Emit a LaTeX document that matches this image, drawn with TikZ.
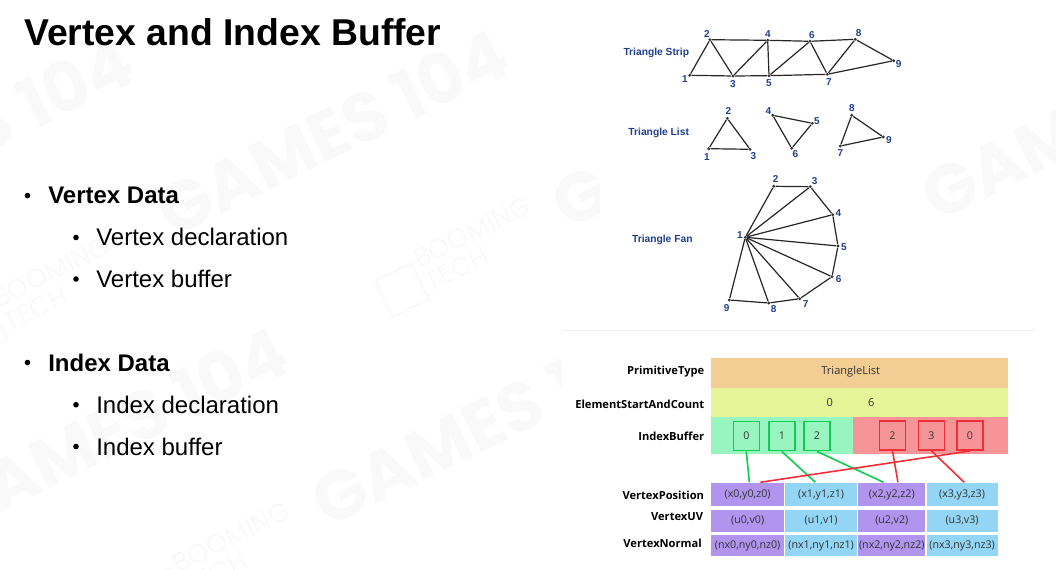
\documentclass[tikz,border=0pt]{standalone}
\usepackage{fontspec}
\setmainfont{Liberation Sans}
\newfontfamily\tablefont{Open Sans}
\newfontfamily\markfont{Poppins}
\usepackage{tikz}
\usetikzlibrary{positioning, calc}
\definecolor{labelblue}{HTML}{1F3F8F}
\definecolor{cellpurple}{HTML}{B094EE}
\definecolor{cellblue}{HTML}{93D5F5}
\definecolor{rowgreen}{HTML}{98F5C0}
\definecolor{rowred}{HTML}{F59598}
\definecolor{roworange}{HTML}{F3CE94}
\definecolor{rowyellow}{HTML}{E6F597}
\definecolor{linegreen}{HTML}{10CC50}
\definecolor{linered}{HTML}{F03038}
\definecolor{markgray}{HTML}{F9F9F9}

\begin{document}
\begin{tikzpicture}[
			x=0.75pt, y=-0.75pt,
			heading/.style={anchor=base west, font=\bfseries\fontsize{28}{30}\selectfont, inner sep=0pt},
			item/.style={anchor=base west, font=\fontsize{18}{20}\selectfont, inner sep=0pt},
			itembold/.style={item, font=\bfseries\fontsize{18}{20}\selectfont},
			bulletdot/.style={circle, fill=black, inner sep=0pt, minimum size=4.2pt},
			vert/.style={circle, fill=black!80, inner sep=0pt, minimum size=2.4pt},
			num/.style={font=\bfseries\fontsize{7.5}{8}\selectfont, text=labelblue, inner sep=0pt},
			kind/.style={font=\bfseries\fontsize{7.7}{8}\selectfont, text=labelblue, inner sep=0pt},
			tri/.style={draw=black!85, line width=0.9pt},
			band/.style={anchor=north west, inner sep=0pt, fill=#1, font=\tablefont\fontsize{8}{9}\selectfont, text=black!80, text height=6.5pt, text depth=2pt},
			plain/.style={font=\tablefont\fontsize{8.3}{9}\selectfont, text=black!80, inner sep=0pt},
			rowname/.style={anchor=east, inner sep=0pt, font=\tablefont\bfseries\fontsize{8.35}{9}\selectfont},
			idx/.style={draw=#1, line width=1.2pt, minimum width=19.5pt, minimum height=22pt, inner sep=0pt, font=\tablefont\fontsize{8}{9}\selectfont, text=black!80},
			link/.style={draw=#1, line width=1.2pt},
			wmark/.style={rotate=26, text=markgray, inner sep=0pt, font=\markfont\bfseries\fontsize{52}{54}\selectfont},
			wbrand/.style={rotate=26, text=markgray, inner sep=0pt, align=left, font=\markfont\fontsize{20}{20}\selectfont},
			wicon/.style={rotate=26, draw=markgray, line width=1.5pt, minimum size=30pt, inner sep=0pt}
			]
			\useasboundingbox (0,0) rectangle (1056,570);
			
			% background marks
			\foreach \mx/\my/\mi in {332/132/1, -43/140/2, 112/430/3, 487/422/4, 727/124/5, 1097/116/6} {
				\node[wmark] (mark\mi) at (\mx,\my) {GAMES 104};
			}
			\foreach \mx/\my/\mi in {478/244/1, 57/284/2, 237/549/3} {
				\node[wbrand] (brand\mi) at (\mx,\my) {BOOMING\\TECH};
				\node[wicon] (icon\mi) at ($(\mx,\my)+(-76,46)$) {};
			}
			\fill[white] (600,0) rectangle (915,330);
			\fill[white] (562,330) rectangle (1035,570);
			\draw[black!6, line width=0.75pt] (562,330) -- (1035,330);
			
			\node[heading] (title) at (24,46) {Vertex and Index Buffer};
			
			% left column
			\node[bulletdot] (b1) at (27.5,195.6) {};
			\node[itembold] (t1) at (48,203.6) {Vertex Data};
			\node[bulletdot] (b2) at (76,237.5) {};
			\node[item] (t2) at (96,246) {Vertex declaration};
			\node[bulletdot] (b3) at (76,279) {};
			\node[item] (t3) at (96,287) {Vertex buffer};
			\node[bulletdot] (b4) at (27.5,362.5) {};
			\node[itembold] (t4) at (48,371) {Index Data};
			\node[bulletdot] (b5) at (76,404.7) {};
			\node[item] (t5) at (96,413) {Index declaration};
			\node[bulletdot] (b6) at (76,446.5) {};
			\node[item] (t6) at (96,455) {Index buffer};
			
			% triangle strip
			\node[kind] (strip) at (656.3,53) {Triangle Strip};
			\foreach \name/\px/\py/\lx/\ly in {1/689.7/75.3/685/79, 2/710/39.7/707/34, 3/733/76/733/84, 4/767.7/40.3/768/34, 5/769/75.7/769/83, 6/810/41.3/812/34.7, 7/827.3/74.3/829/82, 8/855.3/39.3/858.7/32.7, 9/893.7/60.7/898.7/64} {
				\node[vert] (s\name) at (\px,\py) {};
				\node[num] (sl\name) at (\lx,\ly) {\name};
			}
			\draw[tri] (s1) -- (s2) -- (s3) -- (s4) -- (s5) -- (s6) -- (s7) -- (s8) -- (s9) -- (s7) -- (s5) -- (s3) -- (s1);
			\draw[tri] (s2) -- (s4) -- (s6) -- (s8);
			
			% triangle list
			\node[kind] (list) at (658.7,132.5) {Triangle List};
			\foreach \name/\px/\py/\lx/\ly in {1/708.7/148.7/707/157.3, 2/727.3/118.3/728.3/111.3, 3/750/149.3/753.3/155.7, 4/772.7/115.3/768.3/111, 5/812.3/123.3/817/121.3, 6/791.7/148.3/795.3/154, 7/840.3/146/840.3/153.3, 8/851.7/115.3/852/108.3, 9/883.3/137/889/140} {
				\node[vert] (l\name) at (\px,\py) {};
				\node[num] (ll\name) at (\lx,\ly) {\name};
			}
			\draw[tri] (l1) -- (l2) -- (l3) -- (l1);
			\draw[tri] (l4) -- (l5) -- (l6) -- (l4);
			\draw[tri] (l7) -- (l8) -- (l9) -- (l7);
			
			% triangle fan
			\node[kind] (fan) at (662.3,239.8) {Triangle Fan};
			\foreach \name/\px/\py/\lx/\ly in {1/745.3/237.3/740/235, 2/773.7/186.3/775.7/179, 3/810.3/186.7/814.7/181, 4/832.7/214.7/838.3/212.7, 5/838/246/844/246.7, 6/832/276.7/838.7/279, 7/799.7/298.7/805.7/304, 8/768.7/303/773.7/309, 9/729.3/300/726.7/307.7} {
				\node[vert] (f\name) at (\px,\py) {};
				\node[num] (fl\name) at (\lx,\ly) {\name};
			}
			\draw[tri] (f2) -- (f3) -- (f4) -- (f5) -- (f6) -- (f7) -- (f8) -- (f9);
			\foreach \name in {2,...,9} {
				\draw[tri] (f1) -- (f\name);
			}
			
			% upper table
			\node[band=roworange, minimum width=222.75pt, minimum height=23pt] (prim) at (711,357.3) {};
			\node[band=rowyellow, minimum width=222.75pt, minimum height=21.5pt] (count) at (711,388) {};
			\node[band=rowgreen, minimum width=106.5pt, minimum height=28pt] (greenrow) at (711,416.7) {};
			\node[band=rowred, minimum width=116.25pt, minimum height=28pt] (redrow) at (853,416.7) {};
			\node[plain] (primtext) at (850.7,372) {TriangleList};
			\node[plain] (startval) at (829.7,402.3) {0};
			\node[plain] (countval) at (871.3,402.3) {6};
			\node[rowname] (primname) at (704.5,372) {PrimitiveType};
			\node[rowname] (countname) at (704.5,404.5) {ElementStartAndCount};
			\node[rowname] (indexname) at (704.5,436) {IndexBuffer};
			
			\foreach \i/\bx in {0/746.3, 1/781.8, 2/817} {
				\node[idx=linegreen] (g\i) at (\bx,436) {\i};
			}
			\node[idx=linered] (r2) at (892.5,435.5) {2};
			\node[idx=linered] (r3) at (931.5,435.5) {3};
			\node[idx=linered] (r0) at (970,435.5) {0};
			
			% vertex table
			\foreach \i/\cx/\cw/\ccol in {0/710.7/55/cellpurple, 1/785/53.75/cellblue, 2/858/50.25/cellpurple, 3/926.3/53.25/cellblue} {
				\node[band=\ccol, minimum width=\cw pt, minimum height=17.8pt] (pos\i) at (\cx,482.3) {(x\i,y\i,z\i)};
				\node[band=\ccol, minimum width=\cw pt, minimum height=16pt] (uv\i) at (\cx,510) {(u\i,v\i)};
				\node[band=\ccol, minimum width=\cw pt, minimum height=15.5pt] (nor\i) at (\cx,535) {(nx\i,ny\i,nz\i)};
			}
			\node[rowname] (posname) at (704.3,495.5) {VertexPosition};
			\node[rowname] (uvname) at (703.3,517) {VertexUV};
			\node[rowname] (norname) at (702,543) {VertexNormal};
			
			% index links
			\draw[link=linegreen] (g0.south) -- ([xshift=1.3pt]pos0.north);
			\draw[link=linegreen] (g1.south) -- ([xshift=-4.35pt]pos1.north);
			\draw[link=linegreen] (g2.south) -- ([xshift=-6.15pt]pos2.north);
			\draw[link=linered] (r2.south) -- ([xshift=4.65pt]pos2.north);
			\draw[link=linered] (r3.south) -- ([xshift=1.65pt]pos3.north);
			\draw[link=linered] (r0.south) -- ([xshift=9.5pt]pos0.north);
		\end{tikzpicture}
\end{document}
